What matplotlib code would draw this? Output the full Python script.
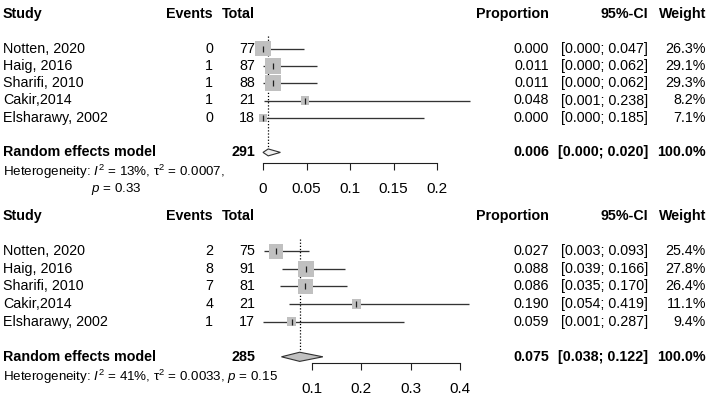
import matplotlib
matplotlib.use("Agg")
import matplotlib.pyplot as plt
from matplotlib.patches import Polygon
from matplotlib.transforms import blended_transform_factory
import numpy as np

plt.rcParams['font.family'] = ['Liberation Sans', 'DejaVu Sans']
plt.rcParams['mathtext.fontset'] = 'custom'
plt.rcParams['mathtext.rm'] = 'Liberation Sans'
plt.rcParams['mathtext.it'] = 'Liberation Sans:italic'

# data
studies = ["Notten, 2020", "Haig, 2016", "Sharifi, 2010", "Cakir,2014", "Elsharawy, 2002"]

events_a = [0, 1, 1, 1, 0]
total_a = [77, 87, 88, 21, 18]
prop_a = [0.000, 0.011, 0.011, 0.048, 0.000]
lo_a = [0.000, 0.000, 0.000, 0.001, 0.000]
hi_a = [0.047, 0.062, 0.062, 0.238, 0.185]
weight_a = [26.3, 29.1, 29.3, 8.2, 7.1]
pooled_a = [0.006, 0.000, 0.020]
pooled_n_a = 291
het_a = ["Heterogeneity: $I^2$ = 13%, τ$^2$ = 0.0007,", "$p$ = 0.33"]
ticks_a = [0, 0.05, 0.1, 0.15, 0.2]
ticklabels_a = ["0", "0.05", "0.1", "0.15", "0.2"]

events_b = [2, 8, 7, 4, 1]
total_b = [75, 91, 81, 21, 17]
prop_b = [0.027, 0.088, 0.086, 0.190, 0.059]
lo_b = [0.003, 0.039, 0.035, 0.054, 0.001]
hi_b = [0.093, 0.166, 0.170, 0.419, 0.287]
weight_b = [25.4, 27.8, 26.4, 11.1, 9.4]
pooled_b = [0.075, 0.038, 0.122]
pooled_n_b = 285
het_b = ["Heterogeneity: $I^2$ = 41%, τ$^2$ = 0.0033, $p$ = 0.15", ""]
ticks_b = [0.1, 0.2, 0.3, 0.4]
ticklabels_b = ["0.1", "0.2", "0.3", "0.4"]

W, H = 711, 400
FS = 10.3
fig = plt.figure(figsize=(W / 100, H / 100), dpi=100)


def forest(bottom_frac, x0, scale, y0, dy, events, total, prop, lo, hi, weight,
           pooled, pooled_n, het, ticks, ticklabels, diamond_fill, diamond_h, axis_row):
    ax = fig.add_axes([0, bottom_frac, 1, 0.5])
    ax.set_xlim(-x0 / scale, (W - x0) / scale)
    # panel covers 200 px vertically; row r sits at y0 + r*dy px from panel top
    ax.set_ylim((200 - y0) / dy, -y0 / dy)
    ax.patch.set_alpha(0)
    tr = blended_transform_factory(fig.transFigure, ax.transData)

    def txt(px, r, s, ha='left', bold=False, size=FS):
        ax.text(px / W, r, s, transform=tr, ha=ha, va='center', fontsize=size,
                fontweight='bold' if bold else 'normal')

    # headers
    txt(3, 0, "Study", bold=True)
    txt(213, 0, "Events", ha='right', bold=True)
    txt(255, 0, "Total", ha='right', bold=True)
    txt(549, 0, "Proportion", ha='right', bold=True)
    txt(648, 0, "95%-CI", ha='right', bold=True)
    txt(706, 0, "Weight", ha='right', bold=True)

    rows = np.arange(len(studies)) + 2
    for r, name, e, n, p, l, h, w in zip(rows, studies, events, total, prop, lo, hi, weight):
        txt(3, r, name)
        txt(213, r, str(e), ha='right')
        txt(255, r, str(n), ha='right')
        txt(549, r, f"{p:.3f}", ha='right')
        txt(648, r, f"[{l:.3f}; {h:.3f}]", ha='right')
        txt(706, r, f"{w:.1f}%", ha='right')

    re_row = rows[-1] + 2
    txt(3, re_row, "Random effects model", bold=True)
    txt(255, re_row, str(pooled_n), ha='right', bold=True)
    txt(549, re_row, f"{pooled[0]:.3f}", ha='right', bold=True)
    txt(648, re_row, f"[{pooled[1]:.3f}; {pooled[2]:.3f}]", ha='right', bold=True)
    txt(706, re_row, "100.0%", ha='right', bold=True)

    txt(3, re_row + 1.15, het[0], size=9.6)
    if het[1]:
        txt(91, re_row + 2.1, het[1], size=9.6)

    # pooled estimate reference line
    ax.vlines(pooled[0], 1.3, re_row, colors='black', linestyles=(0, (1, 1.5)), lw=0.9, zorder=1)

    # study CIs, squares and point ticks
    ax.hlines(rows, lo, hi, colors='#333333', lw=0.95, zorder=2)
    side = 0.72 * 2.95 * np.sqrt(weight)
    ax.scatter(prop, rows, s=side ** 2, marker='s', color='#c0c0c0', lw=0, zorder=3)
    ax.scatter(prop, rows, s=14, marker='|', color='#202020', lw=0.9, zorder=4)

    # diamond
    dia = Polygon([(pooled[1], re_row), (pooled[0], re_row - diamond_h),
                   (pooled[2], re_row), (pooled[0], re_row + diamond_h)],
                  closed=True, facecolor=diamond_fill, edgecolor='#303030', lw=0.8, zorder=5)
    ax.add_patch(dia)

    # axis
    for s in ['top', 'left', 'right']:
        ax.spines[s].set_visible(False)
    ax.spines['bottom'].set_position(('data', axis_row))
    ax.spines['bottom'].set_bounds(ticks[0], ticks[-1])
    ax.spines['bottom'].set_color('#202020')
    ax.spines['bottom'].set_linewidth(0.8)
    ax.set_xticks(ticks)
    ax.set_xticklabels(ticklabels)
    ax.tick_params(axis='x', direction='out', length=5, width=0.8, color='#202020',
                   labelsize=11, pad=9)
    ax.set_yticks([])
    return ax


forest(0.5, 263, 870, 14, 17.3, events_a, total_a, prop_a, lo_a, hi_a, weight_a,
       pooled_a, pooled_n_a, het_a, ticks_a, ticklabels_a, '#f0f0f0', 0.2, 8.6)
forest(0.0, 262.7, 493.3, 16, 17.6, events_b, total_b, prop_b, lo_b, hi_b, weight_b,
       pooled_b, pooled_n_b, het_b, ticks_b, ticklabels_b, '#c0c0c0', 0.26, 8.35)

fig.savefig("out.png", dpi=100)
